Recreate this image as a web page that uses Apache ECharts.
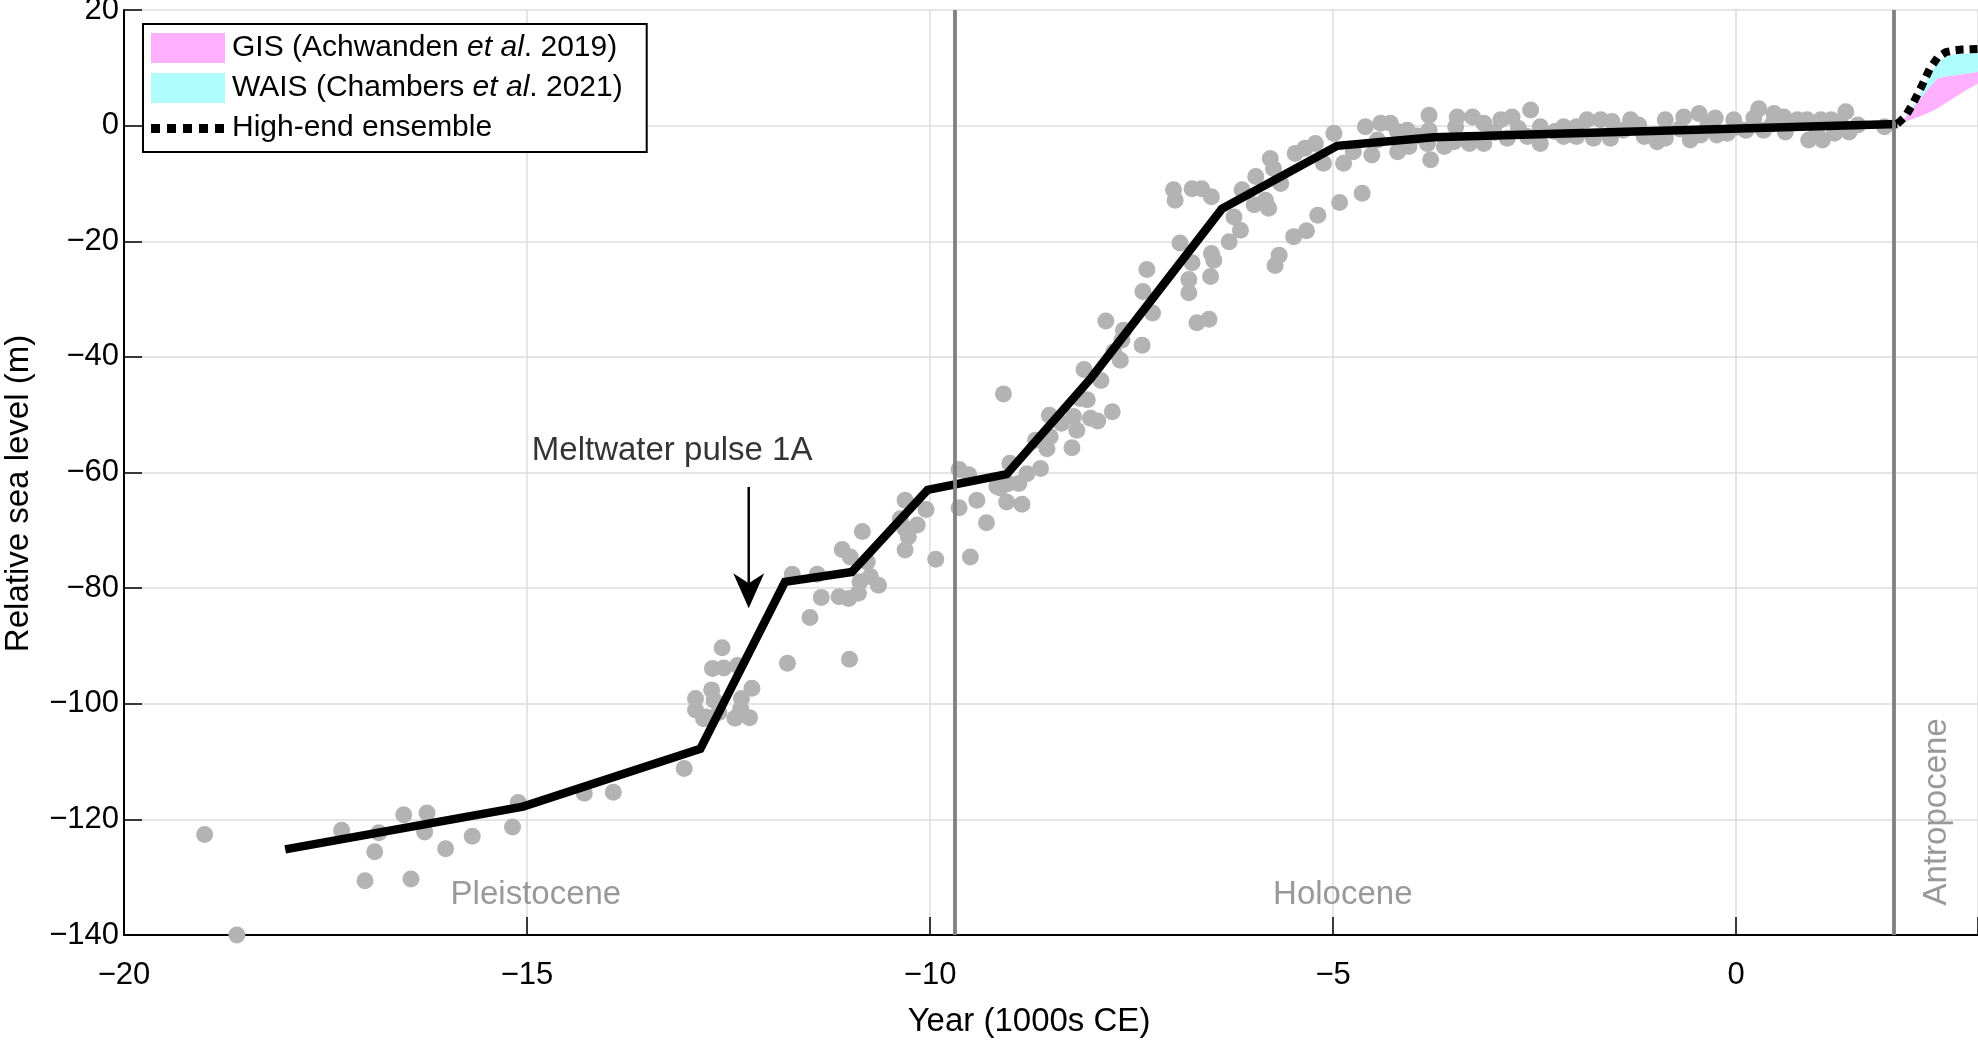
<!DOCTYPE html>
<html>
<head>
<meta charset="utf-8">
<script src="https://cdn.jsdelivr.net/npm/echarts@6/dist/echarts.min.js"></script>
<style>html,body{margin:0;padding:0;background:#fff}#c{width:1978px;height:1040px}</style>
</head>
<body>
<div id="c"></div>
<script>
// ---------- data ----------
const xTicks = [-20, -15, -10, -5, 0];
const yTicks = [-140, -120, -100, -80, -60, -40, -20, 0, 20];

// reconstructed relative sea-level curve (kyr CE, m)
const curveYears  = [-18, -15.05, -12.85, -11.8, -10.97, -10.03, -9.05, -8.0, -6.38, -4.95, -3.75, 2.0];
const curveLevels = [-125.2, -117.8, -107.8, -78.9, -77.2, -63.0, -60.3, -43.6, -14.4, -3.5, -2.0, 0.3];

// sea-level index points [kyr CE, m]
const observations = [
  [-19.0,-122.6],[-18.6,-140],[-17.3,-121.9],[-16.84,-122.3],[-16.89,-125.6],[-17.01,-130.6],
  [-16.53,-119.2],[-16.24,-118.9],[-16.27,-122.2],[-16.01,-125.1],[-16.44,-130.3],[-15.68,-122.9],
  [-15.18,-121.3],[-15.11,-117.1],[-14.29,-115.5],[-13.93,-115.3],[-13.05,-111.2],
  [-12.58,-90.3],[-12.70,-93.9],[-12.56,-93.8],[-12.39,-93.4],[-12.91,-99.1],[-12.71,-97.6],
  [-12.68,-99.4],[-12.91,-101.1],[-12.78,-102.3],[-12.34,-99.1],[-12.21,-97.3],[-12.35,-100.9],
  [-12.42,-102.5],[-12.24,-102.4],[-12.81,-102.6],[-12.62,-101.5],
  [-11.71,-77.6],[-11.40,-77.6],[-11.35,-81.6],[-11.49,-85.1],[-11.77,-93.0],[-11.00,-92.3],
  [-11.13,-81.5],[-11.01,-81.8],[-10.89,-80.9],[-10.87,-78.9],[-10.74,-78.0],[-10.64,-79.5],
  [-11.09,-73.3],[-10.99,-74.6],[-10.78,-75.5],[-10.84,-70.2],[-10.31,-64.8],[-10.37,-68.0],
  [-10.31,-69.7],[-10.27,-71.1],[-10.31,-73.4],[-10.16,-69.1],[-10.05,-66.4],[-9.93,-75.0],
  [-9.64,-59.5],[-9.52,-60.4],[-9.64,-66.1],[-9.42,-64.8],[-9.30,-68.7],[-9.50,-74.6],
  [-9.13,-62.7],[-9.05,-65.1],[-8.86,-65.5],[-9.01,-58.4],[-9.03,-61.9],[-8.90,-61.9],
  [-8.80,-60.2],[-8.63,-59.3],[-8.55,-55.9],[-8.69,-54.4],[-9.09,-46.4],[-9.17,-62.4],
  [-8.52,-50.1],[-8.51,-53.8],[-8.37,-51.5],[-8.22,-50.3],[-8.18,-52.7],[-8.24,-55.7],
  [-8.05,-47.4],[-7.92,-51.1],[-7.74,-49.5],[-7.88,-44.1],[-8.09,-42.2],[-8.14,-47.2],[-8.01,-50.6],
  [-6.98,-11.1],[-6.96,-12.9],[-6.75,-10.9],[-6.63,-10.9],[-6.51,-12.3],[-6.90,-20.3],
  [-6.75,-23.7],[-6.51,-22.1],[-6.48,-23.3],[-6.52,-26.1],[-6.79,-26.6],[-6.79,-28.9],
  [-6.69,-34.1],[-6.54,-33.5],[-7.31,-24.9],[-7.36,-28.7],[-7.24,-32.4],[-7.82,-33.8],
  [-7.60,-35.4],[-7.62,-37.1],[-7.37,-38.0],[-7.64,-40.6],[-7.72,-39.1],
  [-6.29,-20.1],[-6.15,-18.1],[-6.23,-15.8],[-6.13,-11.1],[-5.96,-8.8],[-5.98,-13.7],
  [-5.84,-12.9],[-5.80,-14.3],[-5.78,-5.7],[-5.74,-7.4],[-5.65,-10.0],[-5.67,-22.4],
  [-5.72,-24.2],[-5.49,-19.2],[-5.33,-18.2],[-5.19,-15.5],[-4.92,-13.3],[-4.64,-11.7],
  [-5.47,-4.8],[-5.35,-3.9],[-5.22,-3.1],[-5.12,-6.5],[-4.99,-1.3],[-4.87,-6.5],
  [-4.75,-4.5],[-4.52,-5.1],[-4.60,-0.2],
  [-4.41,0.4],[-4.29,0.4],[-4.45,-2.5],[-4.20,-4.5],[-4.08,-0.8],[-4.06,-3.6],[-3.81,1.8],
  [-3.81,-0.8],[-3.79,-5.9],[-3.83,-3.1],[-3.62,-3.6],[-3.46,1.5],[-3.27,1.5],[-3.48,-0.2],
  [-3.50,-2.8],[-3.31,-3.1],[-3.13,0.4],[-3.13,-3.1],[-2.92,1.0],[-2.78,1.5],[-2.84,-2.2],
  [-2.55,2.7],[-2.59,-1.9],[-2.43,-0.2],[-2.43,-3.1],[-2.14,-0.2],[-2.14,-1.9],[-1.98,-0.2],
  [-1.98,-1.9],[-1.85,1.0],[-1.77,-2.2],[-1.68,1.0],[-1.56,-2.2],[-1.54,0.7],
  [-3.0,-1.2],[-2.7,-0.5],[-2.25,-1.0],[-1.4,-0.8],[-0.7,-0.6],[0.0,-0.3],[0.45,0.3],
  [1.0,-0.5],[1.3,0.2],[-3.95,-1.8],[-4.2,-1.0],[-0.35,0.2],
  [-1.31,1.0],[-1.21,0.1],[-1.14,-1.9],[-0.98,-2.8],[-0.88,1.0],[-0.88,-2.2],[-0.65,1.5],
  [-0.57,-2.5],[-0.46,2.1],[-0.44,-1.6],[-0.26,1.3],[-0.24,-1.6],[-0.11,-1.3],[-0.03,1.0],
  [0.12,-0.8],[0.28,2.9],[0.22,1.3],[0.34,-0.8],[0.47,2.1],[0.59,1.5],[0.61,-1.1],
  [0.76,1.0],[0.88,1.0],[0.90,-2.5],[1.05,1.0],[1.07,-2.5],[1.18,1.0],[1.22,-1.3],
  [1.36,2.4],[1.40,-1.1],[1.51,0.1],[1.84,-0.2]
];

// projections (kyr CE, m)
const projYears = [2.0, 2.1, 2.2, 2.3, 2.4, 2.5, 2.6, 2.7, 2.8, 2.9, 3.0];
const gisLower  = [0.25, 0.7, 1.2, 1.7, 2.3, 3.0, 3.9, 4.8, 5.7, 6.5, 7.3];
const gisUpper  = [0.3, 1.4, 3.1, 4.9, 6.6, 8.2, 8.45, 8.65, 8.85, 9.05, 9.3];
const waisUpper = [0.3, 1.5, 3.5, 6.0, 8.9, 10.9, 11.9, 12.3, 12.4, 12.5, 12.5];
const highEnd   = [0.3, 1.6, 4.0, 6.8, 9.8, 11.8, 12.7, 13.0, 13.15, 13.2, 13.25];

// epoch boundaries (kyr CE)
const epochBounds = [-9.7, 1.95];

// annotation texts
const annotations = [
  {text: 'Pleistocene', x: -14.89, y: -133.0, color: '#808080', rotate: 0},
  {text: 'Holocene', x: -4.88, y: -133.0, color: '#808080', rotate: 0},
  {text: 'Antropocene', x: 2.49, y: -118.7, color: '#808080', rotate: 90},
  {text: 'Meltwater pulse 1A', x: -13.2, y: -56.2, color: '#000000', rotate: 0}
];
const arrowFrom = [-12.25, -62.5];
const arrowTo = [-12.25, -83.5];

// ---------- chart ----------
const FONT = '"Liberation Sans", Arial, Helvetica, sans-serif';
const GIS_NAME = 'GIS (Achwanden et al. 2019)';
const WAIS_NAME = 'WAIS (Chambers et al. 2021)';
const HIGH_NAME = 'High-end ensemble';
const fmt = v => (v < 0 ? '\u2212' + Math.abs(v) : String(v));
// dotted legend icon: five squares inside a 74x30 box (degenerate corner points fix the box)
const DOTS_ICON = 'path://M0,0L0,0ZM74,30L74,30Z' +
  'M0,11h9v9h-9zM16,11h9v9h-9zM32,11h9v9h-9zM48,11h9v9h-9zM64,11h9v9h-9z';

function bandRenderer(lo, hi, color) {
  return function (params, api) {
    const pts = [];
    for (let i = 0; i < projYears.length; i++) pts.push(api.coord([projYears[i], hi[i]]));
    for (let i = projYears.length - 1; i >= 0; i--) pts.push(api.coord([projYears[i], lo[i]]));
    return {type: 'polygon', shape: {points: pts}, style: {fill: color}};
  };
}

const chart = echarts.init(document.getElementById('c'), null, {renderer: 'canvas'});
chart.setOption({
  animation: false,
  backgroundColor: '#ffffff',
  textStyle: {fontFamily: FONT},
  grid: {left: 124, right: 0, top: 10, bottom: 105, containLabel: false, outerBoundsMode: 'none'},
  legend: {
    left: 143, top: 24, orient: 'vertical',
    padding: [9, 24, 9, 8], itemGap: 10, itemWidth: 74, itemHeight: 30,
    borderColor: '#000', borderWidth: 2, backgroundColor: '#fff',
    selectedMode: false,
    data: [
      {name: GIS_NAME, icon: 'rect'},
      {name: WAIS_NAME, icon: 'rect'},
      {name: HIGH_NAME, icon: DOTS_ICON, itemStyle: {color: '#000', borderWidth: 0}}
    ],
    formatter: name => name.replace('et al', '{i|et al}'),
    textStyle: {
      fontSize: 30, color: '#000', fontFamily: FONT, padding: [0, 0, 0, 2],
      rich: {i: {fontSize: 30, fontStyle: 'italic', color: '#000', fontFamily: FONT}}
    }
  },
  xAxis: {
    type: 'value', min: -20, max: 3, interval: 5,
    name: 'Year (1000s CE)', nameLocation: 'middle', nameGap: 70,
    nameTextStyle: {fontSize: 33, color: '#000', fontFamily: FONT, padding: [0, 44, 0, 0]},
    axisLine: {show: true, onZero: false, lineStyle: {color: '#000', width: 2}},
    axisTick: {show: true, inside: true, length: 18, lineStyle: {color: '#000', width: 1.5}},
    axisLabel: {fontSize: 31, color: '#000', margin: 25, fontFamily: FONT,
      formatter: v => (xTicks.indexOf(v) >= 0 ? fmt(v) : '')},
    splitLine: {show: true, lineStyle: {color: '#dddddd', width: 1.5}}
  },
  yAxis: {
    type: 'value', min: -140, max: 20, interval: 20,
    name: 'Relative sea level (m)', nameLocation: 'middle', nameGap: 89,
    nameTextStyle: {fontSize: 33, color: '#000', fontFamily: FONT, padding: [0, 42, 0, 0]},
    axisLine: {show: true, onZero: false, lineStyle: {color: '#000', width: 2}},
    axisTick: {show: true, inside: true, length: 18, lineStyle: {color: '#000', width: 1.5}},
    axisLabel: {fontSize: 31, color: '#000', margin: 5, fontFamily: FONT,
      formatter: v => (yTicks.indexOf(v) >= 0 ? fmt(v) : '')},
    splitLine: {show: true, lineStyle: {color: '#dddddd', width: 1.5}}
  },
  series: [
    {
      name: 'Sea-level index points', type: 'scatter', z: 2, silent: true,
      symbol: 'circle', symbolSize: 17,
      itemStyle: {color: '#b3b3b3', opacity: 1},
      data: observations
    },
    {
      name: 'epochs', type: 'line', z: 3, silent: true, data: [],
      markLine: {
        silent: true, symbol: ['none', 'none'], animation: false,
        label: {show: false},
        lineStyle: {color: '#808080', width: 3.8, type: 'solid'},
        data: epochBounds.map(v => ({xAxis: v}))
      }
    },
    {
      name: WAIS_NAME, type: 'custom', z: 3, silent: true,
      itemStyle: {color: '#aefcfc'},
      renderItem: bandRenderer(gisUpper, waisUpper, '#aefcfc'),
      data: [[projYears[0], gisUpper[0]]]
    },
    {
      name: GIS_NAME, type: 'custom', z: 3, silent: true,
      itemStyle: {color: '#ffb1ff'},
      renderItem: bandRenderer(gisLower, gisUpper, '#ffb1ff'),
      data: [[projYears[0], gisLower[0]]]
    },
    {
      name: 'Sea-level curve', type: 'line', z: 4, silent: true,
      symbol: 'none', showSymbol: false,
      lineStyle: {color: '#000', width: 8.5, join: 'miter'},
      data: curveYears.map((x, i) => [x, curveLevels[i]])
    },
    {
      name: HIGH_NAME, type: 'line', z: 5, silent: true,
      symbol: 'none', showSymbol: false,
      itemStyle: {color: '#000'},
      lineStyle: {color: '#000', width: 8, type: [8, 6], cap: 'butt'},
      data: projYears.map((x, i) => [x, highEnd[i]])
    },
    {
      name: 'annotations', type: 'scatter', z: 6, silent: true,
      symbolSize: 0,
      data: annotations.map(a => ({
        value: [a.x, a.y],
        label: {show: true, formatter: a.text, position: 'inside', rotate: a.rotate,
          color: a.color, fontSize: 33, fontFamily: FONT, align: 'center', verticalAlign: 'middle'}
      }))
    },
    {
      name: 'arrow', type: 'custom', z: 6, silent: true,
      renderItem: function (params, api) {
        const p0 = api.coord(arrowFrom);
        const p1 = api.coord(arrowTo);
        const hw = 15.5, hl = 35, notch = 25;
        return {
          type: 'group',
          children: [
            {type: 'line', shape: {x1: p0[0], y1: p0[1], x2: p1[0], y2: p1[1] - notch},
              style: {stroke: '#000', lineWidth: 2.5}},
            {type: 'polygon', shape: {points: [
              [p1[0], p1[1]], [p1[0] - hw, p1[1] - hl], [p1[0], p1[1] - notch], [p1[0] + hw, p1[1] - hl]
            ]}, style: {fill: '#000'}}
          ]
        };
      },
      data: [arrowTo]
    }
  ]
});
</script>
</body>
</html>
